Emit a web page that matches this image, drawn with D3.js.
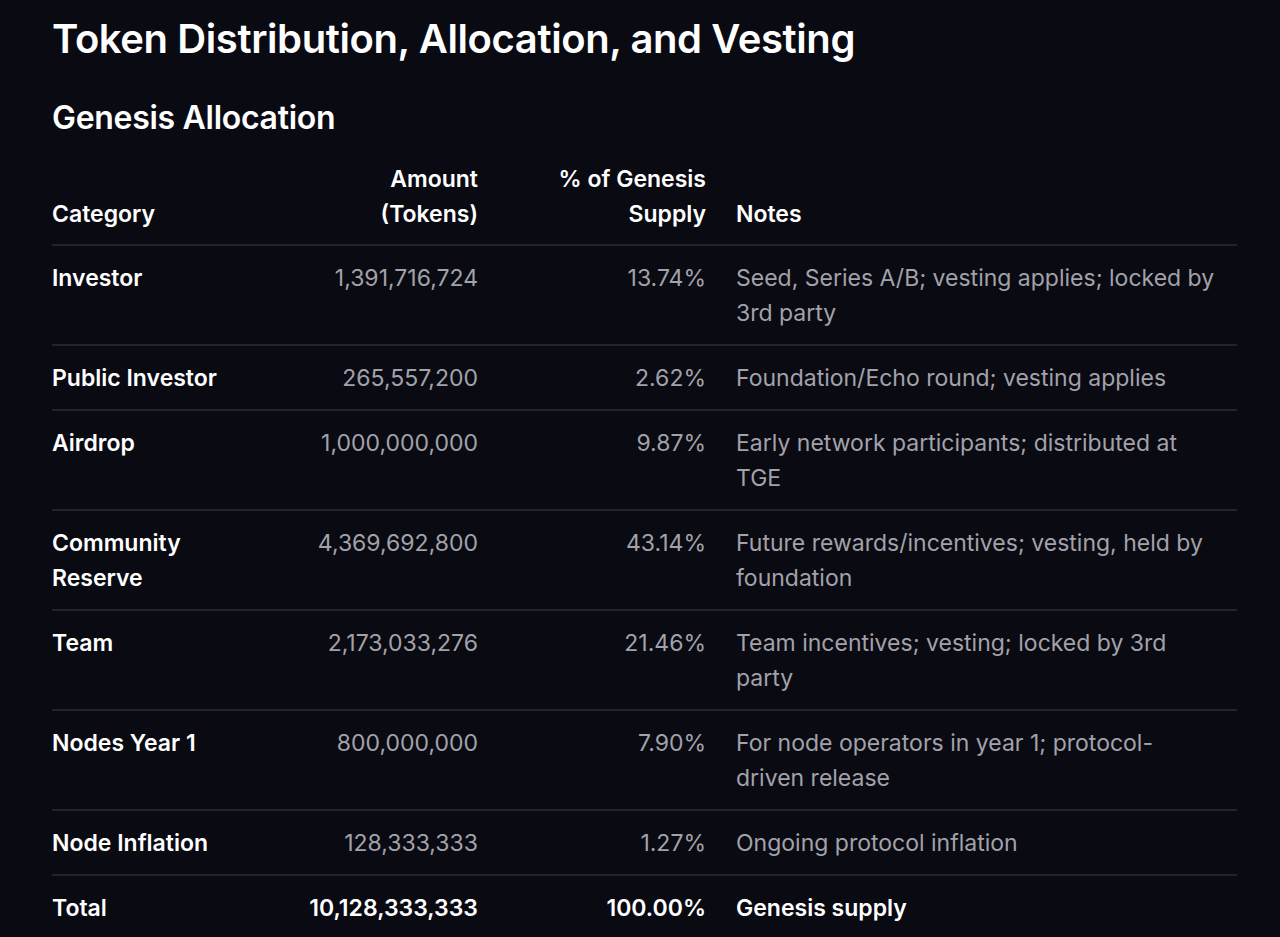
<!DOCTYPE html>
<html>
<head>
<meta charset="utf-8">
<script src="https://cdn.jsdelivr.net/npm/d3@7"></script>
<style>
  html, body { margin: 0; background: #0a0a12; }
  svg { display: block; font-family: Inter, "Noto Sans", sans-serif; }
</style>
</head>
<body>
<div id="chart"></div>
<script>
// table contents
const categories = ["Investor", "Public Investor", "Airdrop", "Community|Reserve", "Team", "Nodes Year 1", "Node Inflation"];
const amounts = [1391716724, 265557200, 1000000000, 4369692800, 2173033276, 800000000, 128333333];
const shares = [13.74, 2.62, 9.87, 43.14, 21.46, 7.90, 1.27];
const notes = [
  "Seed, Series A/B; vesting applies; locked by|3rd party",
  "Foundation/Echo round; vesting applies",
  "Early network participants; distributed at|TGE",
  "Future rewards/incentives; vesting, held by|foundation",
  "Team incentives; vesting; locked by 3rd|party",
  "For node operators in year 1; protocol-|driven release",
  "Ongoing protocol inflation"
];
const totalRow = { category: "Total", amount: 10128333333, share: 100.00, note: "Genesis supply" };
const headers = ["Category", "Amount|(Tokens)", "% of Genesis|Supply", "Notes"];

const width = 1280, height = 937;
const left = 52, right = 1237;
const lineH = 35, pad = 33;
const fmtInt = d3.format(",");
const fmtPct = (v) => d3.format(".2f")(v) + "%";

const svg = d3.select("#chart").append("svg")
  .attr("width", width).attr("height", height);

svg.append("text").attr("x", left).attr("y", 38)
  .attr("dominant-baseline", "central")
  .attr("fill", "#fff").attr("font-size", 40).attr("font-weight", 600)
  .attr("letter-spacing", -0.4)
  .text("Token Distribution, Allocation, and Vesting");

svg.append("text").attr("x", left).attr("y", 117)
  .attr("dominant-baseline", "central")
  .attr("fill", "#fff").attr("font-size", 32).attr("font-weight", 600)
  .attr("letter-spacing", -0.3)
  .text("Genesis Allocation");

// columns: [x, anchor]
const cols = [
  { x: left, anchor: "start" },
  { x: 478, anchor: "end" },
  { x: 706, anchor: "end" },
  { x: 736, anchor: "start" }
];

// build rows
const rows = categories.map((c, i) => ({
  cells: [c, fmtInt(amounts[i]), fmtPct(shares[i]), notes[i]],
  bold: false
}));
rows.push({ cells: [totalRow.category, fmtInt(totalRow.amount), fmtPct(totalRow.share), totalRow.note], bold: true });

const nLines = (r) => d3.max(r.cells, (c) => c.split("|").length);
const headerBottom = 245;
let y = headerBottom;
rows.forEach((r) => {
  r.top = y;
  r.h = 2 * (pad - lineH / 2) + nLines(r) * lineH - 1;
  y += r.h;
});

function drawCell(g, text, col, firstY, color, weight) {
  const t = g.append("text")
    .attr("text-anchor", col.anchor)
    .attr("fill", color).attr("font-size", 23).attr("font-weight", weight);
  text.split("|").forEach((line, k) => {
    t.append("tspan").attr("x", col.x).attr("y", firstY + k * lineH)
      .attr("dominant-baseline", "central").text(line);
  });
}

// header (bottom-aligned)
const hg = svg.append("g");
headers.forEach((h, j) => {
  const n = h.split("|").length;
  drawCell(hg, h, cols[j], 214 - (n - 1) * lineH, "#fff", 600);
});

const lineColor = "#2c2c36";
svg.append("line").attr("x1", left).attr("x2", right)
  .attr("y1", headerBottom).attr("y2", headerBottom)
  .attr("stroke", lineColor).attr("stroke-width", 1.5);

const rg = svg.selectAll("g.row").data(rows).join("g").attr("class", "row");
rg.each(function (r) {
  const g = d3.select(this);
  r.cells.forEach((c, j) => {
    const white = r.bold || j === 0;
    drawCell(g, c, cols[j], r.top + pad, white ? "#fff" : "#a2a2aa", white ? 600 : 400);
  });
  g.append("line").attr("x1", left).attr("x2", right)
    .attr("y1", r.top + r.h).attr("y2", r.top + r.h)
    .attr("stroke", lineColor).attr("stroke-width", 1.5);
});
</script>
</body>
</html>
